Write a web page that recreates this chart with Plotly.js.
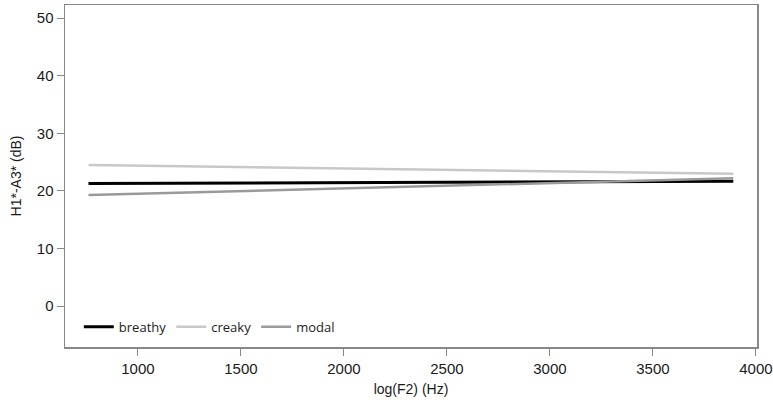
<!DOCTYPE html>
<html>
<head>
<meta charset="utf-8">
<script src="https://cdn.plot.ly/plotly-3.0.1.min.js"></script>
<style>html,body{margin:0;padding:0;background:#fff;}#chart{width:773px;height:405px;}</style>
</head>
<body>
<div id="chart"></div>
<script>
const f2 = [760, 3890];
const breathy = [21.3, 21.7];
const creaky = [24.5, 23.0];
const modal = [19.3, 22.2];
const seriesNames = ["breathy", "creaky", "modal"];
const seriesColors = ["#000000", "#c8c8c8", "#9a9a9a"];
const yTicks = [0, 10, 20, 30, 40, 50];
const xTicks = [1000, 1500, 2000, 2500, 3000, 3500, 4000];

const vals = [breathy, creaky, modal];
const widths = [3, 2.5, 2.5];
const traces = vals.map((v, i) => ({
  x: f2, y: v, type: "scatter", mode: "lines", name: seriesNames[i],
  line: {color: seriesColors[i], width: widths[i]}
}));

const tickFont = {family: "Liberation Sans, Arial, sans-serif", size: 15, color: "#1a1a1a"};
const titleFont = {family: "Liberation Sans, Arial, sans-serif", size: 14, color: "#1a1a1a"};
const layout = {
  width: 773, height: 405,
  margin: {l: 65, r: 16, t: 5, b: 58},
  paper_bgcolor: "#fff", plot_bgcolor: "#fff",
  showlegend: true,
  legend: {orientation: "h", x: 0.02, y: 0.015, xanchor: "left", yanchor: "bottom",
    font: {family: "Open Sans, sans-serif", size: 13, color: "#222"},
    bgcolor: "rgba(0,0,0,0)", itemwidth: 30, tracegroupgap: 0},
  xaxis: {range: [646, 4005], tickvals: xTicks, ticks: "outside", ticklen: 7, tickcolor: "#888",
    showgrid: false, zeroline: false, showline: true, linecolor: "#888", linewidth: 1.5, mirror: true,
    tickfont: tickFont, title: {text: "log(F2) (Hz)", font: titleFont, standoff: 8}},
  yaxis: {range: [-7.1, 52.3], tickvals: yTicks, ticks: "outside", ticklen: 7, tickcolor: "#888",
    showgrid: false, zeroline: false, showline: true, linecolor: "#888", linewidth: 1.5, mirror: true,
    tickfont: tickFont, title: {text: "H1*-A3* (dB)", font: titleFont, standoff: 12}}
};
Plotly.newPlot("chart", traces, layout, {displayModeBar: false, staticPlot: true});
</script>
</body>
</html>
